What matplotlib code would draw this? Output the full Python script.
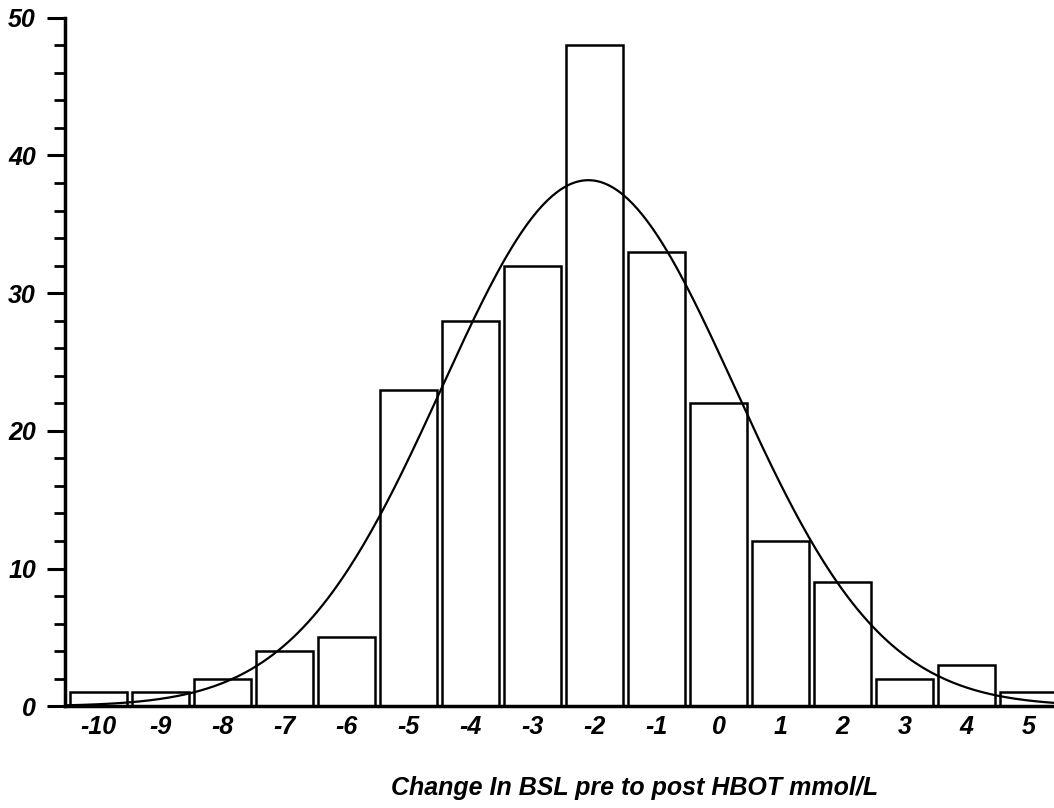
import numpy as np
import matplotlib.pyplot as plt
from matplotlib.ticker import MultipleLocator

# histogram of change in BSL (mmol/L)
bins = [-10, -9, -8, -7, -6, -5, -4, -3, -2, -1, 0, 1, 2, 3, 4, 5]
counts = [1, 1, 2, 4, 5, 23, 28, 32, 48, 33, 22, 12, 9, 2, 3, 1]

# fitted normal curve parameters
fit_mean = -2.1
fit_sd = 2.36

plt.rcParams['font.family'] = ['Liberation Sans', 'DejaVu Sans']

fig = plt.figure(figsize=(10.54, 8.08), dpi=100)
ax = fig.add_axes([0.0617, 0.126, 0.9383, 0.852])

ax.bar(bins, counts, width=0.92, facecolor='white', edgecolor='black',
       linewidth=1.8, zorder=2)

n = sum(counts)
xs = np.linspace(-10.6, 5.6, 400)
ys = n / (fit_sd * np.sqrt(2 * np.pi)) * np.exp(-0.5 * ((xs - fit_mean) / fit_sd) ** 2)
ax.plot(xs, ys, color='black', linewidth=1.6, zorder=3)

ax.set_xlim(-10.54, 5.41)
ax.set_ylim(0, 50)

ax.spines['top'].set_visible(False)
ax.spines['right'].set_visible(False)
ax.spines['left'].set_linewidth(2.5)
ax.spines['bottom'].set_linewidth(2.5)
ax.spines['bottom'].set_zorder(4)

ax.set_xticks(bins)
ax.set_xticklabels([str(b) for b in bins])
ax.tick_params(axis='x', length=0, pad=6, labelsize=18)
for t in ax.get_xticklabels():
    t.set_fontweight('bold')
    t.set_fontstyle('italic')

ax.yaxis.set_major_locator(MultipleLocator(10))
ax.yaxis.set_minor_locator(MultipleLocator(2))
ax.tick_params(axis='y', which='major', direction='out', length=13, width=2.2,
               labelsize=18, pad=8)
ax.tick_params(axis='y', which='minor', direction='out', length=8, width=2)
for t in ax.get_yticklabels():
    t.set_fontweight('bold')
    t.set_fontstyle('italic')

fig.text(0.6025, 0.025, 'Change In BSL pre to post HBOT mmol/L', ha='center',
         va='center', fontsize=18, fontweight='bold', fontstyle='italic')

fig.savefig('out.png', dpi=100)
